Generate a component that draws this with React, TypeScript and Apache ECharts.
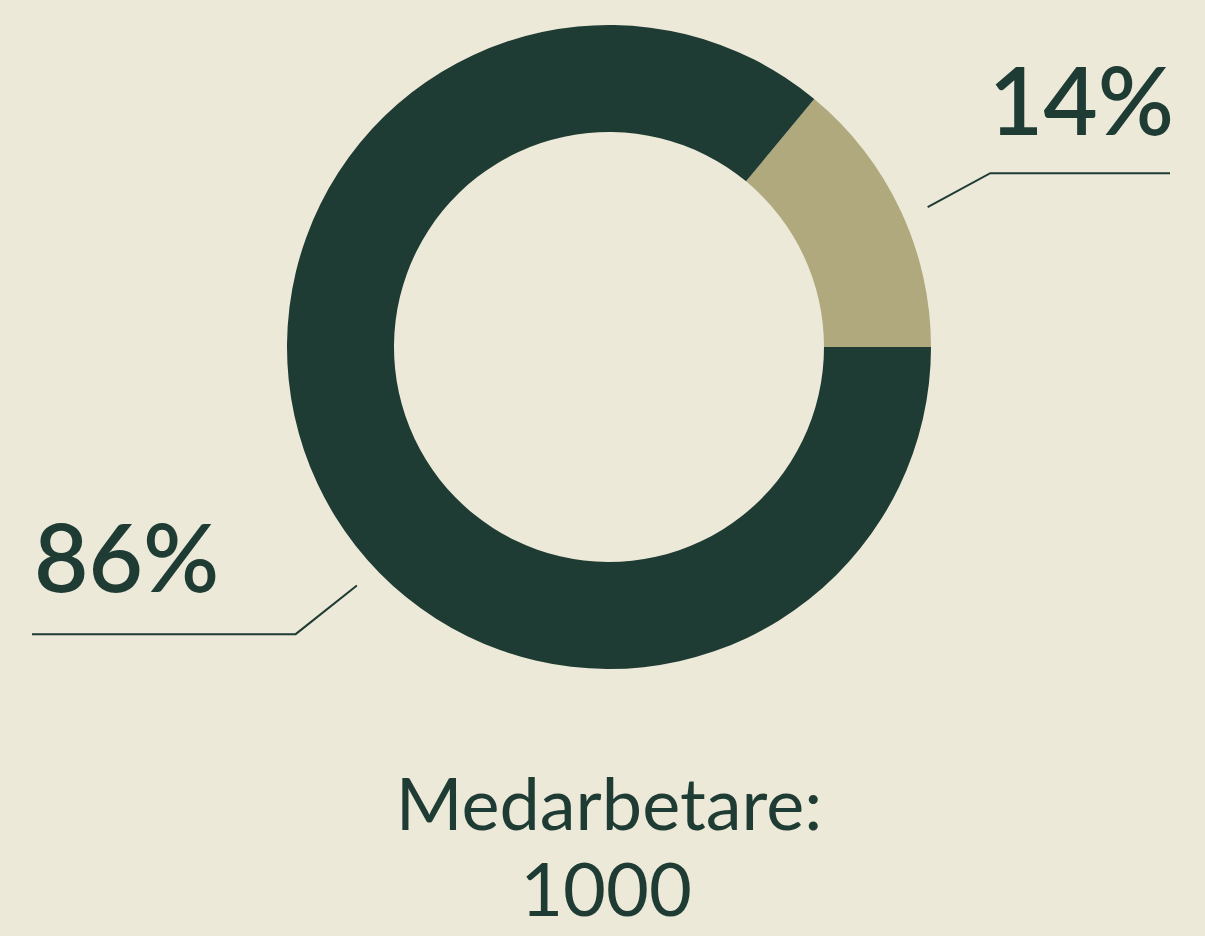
import React, { useEffect, useRef } from "react";
import * as echarts from "echarts";

// ---- data ----
const categories: string[] = ["Grupp A", "Grupp B"];
const values: number[] = [14, 86];
const totalTitle = "Medarbetare:";
const totalValue = 1000;

// ---- styles ----
const BG = "#EDE9D8";
const DARK = "#1E3B34";
const TAN = "#B0A97E";
const sliceColors = [TAN, DARK];
const FONT = "Lato";

// pie geometry (pixels)
const CX = 609;
const CY = 347;
const R_OUT = 322;
const R_IN = 215;

// label-line geometry in polar terms around the pie centre
const lineGeom = [
  { startDeg: 23.7, startR: 348, kneeDeg: 24.5, kneeR: 419, endX: 1170, textX: 1174, textY: 98, align: "right" },
  { startDeg: 223.4, startR: 347, kneeDeg: 222.5, kneeR: 425, endX: 32, textX: 34, textY: 555, align: "left" },
];

function polar(deg: number, r: number): number[] {
  const a = (deg * Math.PI) / 180;
  return [CX + r * Math.cos(a), CY - r * Math.sin(a)];
}

export default function App() {
  const ref = useRef<HTMLDivElement>(null);
  useEffect(() => {
    if (!ref.current) return;
    const chart = echarts.init(ref.current, undefined, { renderer: "svg" });
    const startAngle = (values[0] / values.reduce((a, b) => a + b, 0)) * 360;
    chart.setOption({
      animation: false,
      backgroundColor: BG,
      series: [
        {
          type: "pie",
          center: [CX, CY],
          radius: [R_IN, R_OUT],
          startAngle: startAngle,
          clockwise: true,
          avoidLabelOverlap: false,
          silent: true,
          data: categories.map((c, i) => ({
            name: c,
            value: values[i],
            itemStyle: { color: sliceColors[i] },
          })),
          label: {
            show: true,
            position: "outside",
            formatter: (p: any) => `${p.value}%`,
            color: DARK,
            fontFamily: FONT,
            fontSize: 94,
            fontWeight: 600,
          },
          labelLine: {
            show: true,
            lineStyle: { color: DARK, width: 2 },
            smooth: false,
          },
          labelLayout: (p: any) => {
            const g = lineGeom[p.dataIndex];
            const s = polar(g.startDeg, g.startR);
            const k = polar(g.kneeDeg, g.kneeR);
            return {
              x: g.textX,
              y: g.textY,
              align: g.align,
              verticalAlign: "middle",
              labelLinePoints: [s, k, [g.endX, k[1]]],
            };
          },
        },
      ],
      graphic: [
        {
          type: "text",
          x: CX,
          y: 802,
          style: {
            text: totalTitle,
            fill: DARK,
            font: `400 72px ${FONT}`,
            lineHeight: 78,
            align: "center",
            verticalAlign: "middle",
          },
        },
        {
          type: "text",
          x: CX - 3,
          y: 887,
          style: {
            text: String(totalValue),
            fill: DARK,
            font: `400 74px ${FONT}`,
            lineHeight: 78,
            align: "center",
            verticalAlign: "middle",
          },
        },
      ],
    });
    return () => chart.dispose();
  }, []);
  return (
    <div
      ref={ref}
      style={{ position: "fixed", left: 0, top: 0, width: 1205, height: 936, background: BG }}
    />
  );
}
